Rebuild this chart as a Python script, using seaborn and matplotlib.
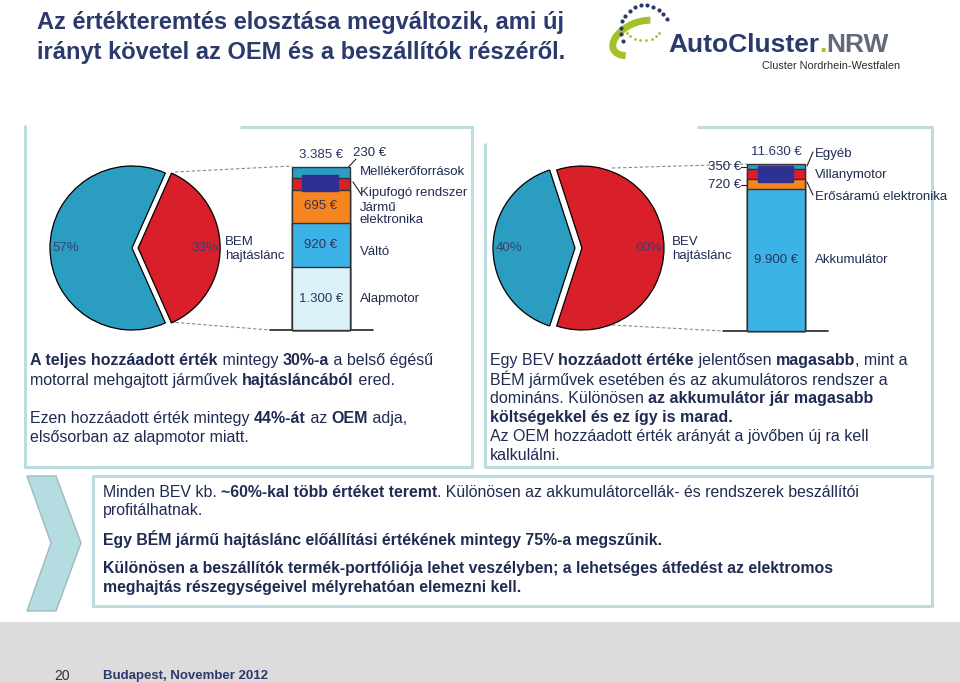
import numpy as np
import seaborn as sns
import matplotlib.pyplot as plt
from matplotlib import font_manager
from matplotlib.patches import Rectangle, Polygon, Arc

# --- data ---------------------------------------------------------------
bem_share = [57, 33]          # pie: rest / BEM hajtáslánc
bev_share = [40, 60]          # pie: rest / BEV hajtáslánc
bem_parts = ['Alapmotor', 'Váltó', 'Jármű\nelektronika', 'Kipufogó rendszer', 'Mellékerőforrások']
bem_values = [1300, 920, 695, 240, 230]
bev_parts = ['Akkumulátor', 'Erősáramú elektronika', 'Villanymotor', 'Egyéb']
bev_values = [9900, 720, 660, 350]

sns.set_theme(style='white')
plt.rcParams['font.family'] = ['Liberation Sans', 'DejaVu Sans']

NAVY = '#1f2b52'
TITLE = '#2a3a6c'
TEAL = '#2a9dc0'
RED = '#d81f2a'
SKY = '#3cb3e6'
ORANGE = '#f7851f'
PALE = '#ddf2f8'
BOX = '#2e3192'
BORDER = '#bcdde0'

W, H = 960, 682
fig = plt.figure(figsize=(9.6, 6.82), dpi=100)
fig.patch.set_facecolor('white')
rend = fig.canvas.get_renderer()

bg = fig.add_axes([0, 0, 1, 1])
bg.set_xlim(0, W)
bg.set_ylim(H, 0)
bg.axis('off')


def T(x, y, s, size=9.5, weight='normal', color=NAVY, ha='left', va='center', **kw):
    return fig.text(x / W, 1 - y / H, s, fontsize=size, fontweight=weight,
                    color=color, ha=ha, va=va, **kw)


def width(s, size, weight, **kw):
    t1 = fig.text(0, 0, '|' + s + '|', fontsize=size, fontweight=weight, **kw)
    t2 = fig.text(0, 0, '||', fontsize=size, fontweight=weight, **kw)
    w = t1.get_window_extent(rend).width - t2.get_window_extent(rend).width
    t1.remove()
    t2.remove()
    return w


def runs(x, y, parts, size, color=NAVY, **kw):
    for p in parts:
        s, b = p[0], p[1]
        c = p[2] if len(p) > 2 else color
        wt = 'bold' if b else 'normal'
        T(x, y, s, size, wt, c, va='center_baseline', **kw)
        x += width(s, size, wt, **kw)


def eur(v):
    return f'{v:,}'.replace(',', '.') + ' €'


def line(xs, ys, **kw):
    kw.setdefault('color', '#222222')
    kw.setdefault('lw', 0.8)
    bg.plot(xs, ys, **kw)


# --- slide frame --------------------------------------------------------
bg.add_patch(Rectangle((0, 622), W, 60, color='#dcdcdc', lw=0))
bl = dict(color=BORDER, lw=2.2, solid_capstyle='butt')
line([25, 25, 472, 472, 240], [125, 467, 467, 127, 127], **bl)
line([485, 485, 932, 932, 697], [143, 467, 467, 127, 127], **bl)
bg.add_patch(Rectangle((93, 476), 839, 130, fill=False, ec=BORDER, lw=2.2))
bg.add_patch(Polygon([(27, 476), (56, 476), (81, 543), (56, 611), (27, 611), (51, 543)],
                     closed=True, fc='#b5dce0', ec='#9fb9bd', lw=1))

# title
T(37, 22, 'Az értékteremtés elosztása megváltozik, ami új', 17, 'bold', TITLE)
T(37, 52, 'irányt követel az OEM és a beszállítók részéről.', 17, 'bold', TITLE)

# logo
names = {f.name for f in font_manager.fontManager.ttflist}
narrow = 'Liberation Sans Narrow' in names
lf = 'Liberation Sans Narrow' if narrow else 'Liberation Sans'
bg.add_patch(Arc((638, 38), 54, 30, angle=-25, theta1=150, theta2=330, color='#a5c12a', lw=5))
th = np.linspace(np.radians(25), np.radians(205), 13)
bg.scatter(645 + 24 * np.cos(th), 30 - 25 * np.sin(th), s=9, color='#2a3a6c', lw=0)
th2 = np.linspace(np.radians(200), np.radians(340), 8)
bg.scatter(643 + 17 * np.cos(th2), 30 - 10 * np.sin(th2), s=4, color='#a5c12a', lw=0)
runs(668, 42, [('AutoCluster', True, '#2a3a6c'), ('.', True, '#a5c12a'), ('NRW', True, '#5f6b7a')],
     23 if narrow else 19, fontfamily=lf)
T(762, 66, 'Cluster Nordrhein-Westfalen', 9.5 if narrow else 7.8, color='#2a2a2a', fontfamily=lf)


# --- pies ---------------------------------------------------------------
def pie(cx, cy, R, vals, explode):
    s = 1.3
    ax = fig.add_axes([(cx - s * R) / W, 1 - (cy + s * R) / H, 2 * s * R / W, 2 * s * R / H])
    frac = vals[1] / sum(vals)
    ax.pie(vals, colors=[TEAL, RED], startangle=180 * frac, explode=[0, explode],
           wedgeprops=dict(edgecolor='black', linewidth=0.9))
    ax.set_xlim(-s, s)
    ax.set_ylim(-s, s)
    ax.patch.set_visible(False)
    ax.text(-0.97, 0, f'{vals[0]}%', ha='left', va='center', fontsize=9.5, color='#38406e')
    ax.text(1.0 + explode - 0.02, 0, f'{vals[1]}%', ha='right', va='center', fontsize=9.5, color='#38406e')
    return ax


pie(132, 248, 82, bem_share, 0.075)
pie(575, 248, 82, bev_share, 0.085)
T(225, 249, 'BEM\nhajtáslánc', 9.5, linespacing=1.15)
T(672, 249, 'BEV\nhajtáslánc', 9.5, linespacing=1.15)


# --- stacked bars -------------------------------------------------------
def stacked(x0, x1, ytop, ybot, values, colors, inside):
    ax = fig.add_axes([x0 / W, 1 - ybot / H, (x1 - x0) / W, (ybot - ytop) / H])
    cum = np.cumsum(values)
    for i in range(len(values) - 1, -1, -1):
        sns.barplot(x=['v'], y=[cum[i]], color=colors[i], saturation=1, width=1,
                    edgecolor='#333333', linewidth=1, ax=ax)
    for p in ax.patches:
        p.set_clip_on(False)
    ax.set_xlim(-0.5, 0.5)
    ax.set_ylim(0, cum[-1])
    ax.axis('off')
    for i in inside:
        ax.text(0, cum[i] - values[i] / 2, eur(values[i]), ha='center', va='center',
                fontsize=9.5, color='#2b3560')
    ax.annotate(eur(int(cum[-1])), (0, cum[-1]), xytext=(0, 12), textcoords='offset pixels',
                ha='center', va='center', fontsize=9.5, color='#2b3560')
    return ax


a1 = stacked(292, 350, 167, 330, bem_values, [PALE, SKY, ORANGE, RED, TEAL], [0, 1, 2])
a1.add_patch(Rectangle((0.17, 0.853), 0.62, 0.098, transform=a1.transAxes, color=BOX, zorder=5))
a2 = stacked(747, 805, 164, 331, bev_values, [SKY, ORANGE, RED, TEAL], [0])
a2.add_patch(Rectangle((0.19, 0.892), 0.60, 0.096, transform=a2.transAxes, color=BOX, zorder=5))

# baselines and connectors
line([270, 373], [330, 330], lw=1.2)
line([723, 828], [331, 331], lw=1.2)
dk = dict(color='#8a8a8a', lw=0.8, ls=(0, (3, 2)))
line([175, 292], [172, 166], **dk)
line([170, 270], [322, 330], **dk)
line([612, 747], [168, 164], **dk)
line([612, 723], [325, 331], **dk)

# BEM labels
T(360, 172, bem_parts[4])
T(360, 193, bem_parts[3])
T(360, 214, bem_parts[2], linespacing=1.1)
T(360, 252, bem_parts[1])
T(360, 299, bem_parts[0])
T(353, 153, eur(bem_values[4]))
line([356, 344], [159, 172])
line([353, 361], [182, 194])

# BEV labels
T(815, 154, bev_parts[3])
T(815, 175, bev_parts[2])
T(815, 197, bev_parts[1])
T(815, 260, bev_parts[0])
T(741, 167, eur(bev_values[3]), ha='right')
T(741, 185, eur(bev_values[1]), ha='right')
line([741, 748], [167, 167])
line([741, 748], [185, 185])
line([807, 813], [166, 152])
line([807, 813], [182, 195])

# --- panel text ---------------------------------------------------------
S = 11.5
runs(30, 359, [('A teljes hozzáadott érték', True), (' mintegy ', False), ('30%-a', True),
               (' a belső égésű', False)], S)
runs(30, 379, [('motorral mehgajtott járművek ', False), ('hajtásláncából', True), (' ered.', False)], S)
runs(30, 417, [('Ezen hozzáadott érték mintegy ', False), ('44%-át', True), (' az ', False),
               ('OEM', True), (' adja,', False)], S)
runs(30, 436, [('elsősorban az alapmotor miatt.', False)], S)

runs(490, 359, [('Egy BEV ', False), ('hozzáadott értéke', True), (' jelentősen ', False),
                ('magasabb', True), (', mint a', False)], S)
runs(490, 378, [('BÉM járművek esetében és az akumulátoros rendszer a', False)], S)
runs(490, 397, [('domináns. Különösen ', False), ('az akkumulátor jár magasabb', True)], S)
runs(490, 416, [('költségekkel és ez így is marad.', True)], S)
runs(490, 435, [('Az OEM hozzáadott érték arányát a jövőben új ra kell', False)], S)
runs(490, 454, [('kalkulálni.', False)], S)

B = 11.4
runs(103, 491, [('Minden BEV kb. ', False), ('~60%-kal több értéket teremt', True),
                ('. Különösen az akkumulátorcellák- és rendszerek beszállítói', False)], B)
runs(103, 509, [('profitálhatnak.', False)], B)
runs(103, 538, [('Egy BÉM jármű hajtáslánc előállítási értékének mintegy 75%-a megszűnik.', True)], B)
runs(103, 567, [('Különösen a beszállítók termék-portfóliója lehet veszélyben; a lehetséges átfedést az elektromos', True)], B)
runs(103, 586, [('meghajtás részegységeivel mélyrehatóan elemezni kell.', True)], B)

# footer
T(62, 676, '20', 10, color='#333333', ha='center')
T(103, 676, 'Budapest, November 2012', 9.5, 'bold', TITLE)

fig.savefig('out.png', dpi=100)
